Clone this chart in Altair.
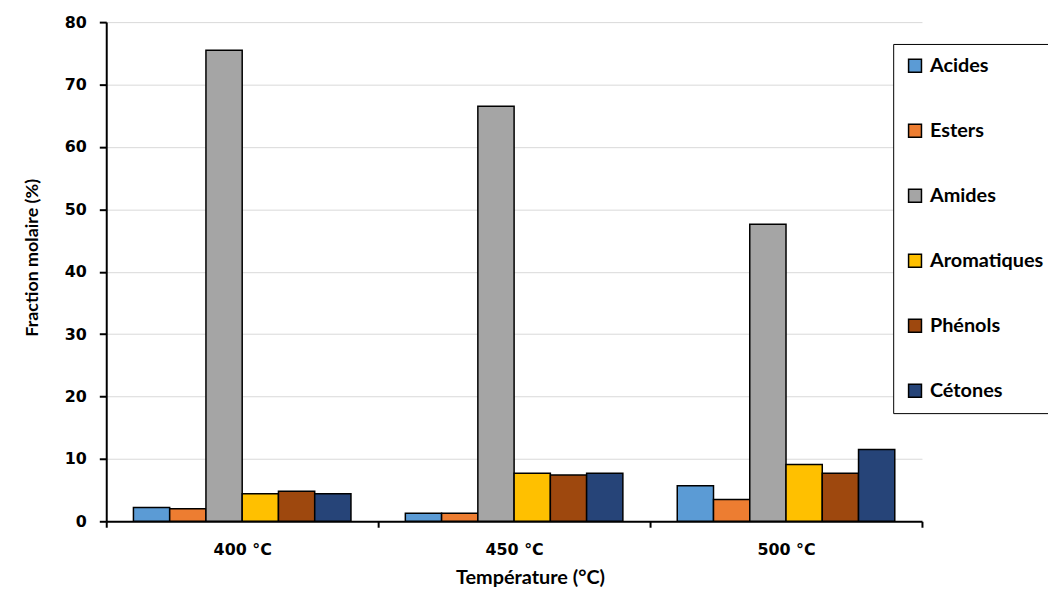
import altair as alt
import pandas as pd

temps = ["400 °C", "450 °C", "500 °C"]
types = ["Acides", "Esters", "Amides", "Aromatiques", "Phénols", "Cétones"]
colors = ["#5B9BD5", "#ED7D31", "#A5A5A5", "#FFC000", "#9E480E", "#264478"]

acides = [2.2, 1.3, 5.7]
esters = [2.0, 1.3, 3.5]
amides = [75.5, 66.5, 47.6]
aromatiques = [4.4, 7.7, 9.1]
phenols = [4.8, 7.4, 7.7]
cetones = [4.4, 7.7, 11.5]

series = [acides, esters, amides, aromatiques, phenols, cetones]
rows = []
for t, vals in zip(types, series):
    for temp, v in zip(temps, vals):
        rows.append({"temp": temp, "type": t, "value": v})
df = pd.DataFrame(rows)

FONT_TXT = "Lato"
FONT_NUM = "DejaVu Sans"

chart = alt.Chart(df).mark_bar(stroke="black", strokeWidth=1.5).encode(
    x=alt.X("temp:N", sort=temps,
            scale=alt.Scale(paddingInner=0, paddingOuter=0),
            axis=alt.Axis(title="Température (°C)", labelAngle=0,
                          tickBand="extent", tickSize=6, tickWidth=2, tickColor="black",
                          domainColor="black", domainWidth=2,
                          labelFont=FONT_NUM, labelFontSize=16, labelFontWeight="bold",
                          labelColor="black", labelPadding=14,
                          titleFont=FONT_TXT, titleFontSize=20, titleFontWeight="bold",
                          titleColor="black", titleX=427, titleY=57,
                          titleAlign="center", titleBaseline="middle")),
    xOffset=alt.XOffset("type:N", sort=types,
                        scale=alt.Scale(paddingInner=0, paddingOuter=0.75)),
    y=alt.Y("value:Q", scale=alt.Scale(domain=[0, 80], nice=False),
            axis=alt.Axis(title="Fraction molaire (%)", values=list(range(0, 81, 10)),
                          tickSize=7, tickWidth=2, tickColor="black",
                          domainColor="black", domainWidth=2,
                          grid=True, gridColor="#d9d9d9", gridWidth=1,
                          labelFont=FONT_NUM, labelFontSize=16, labelFontWeight="bold",
                          labelColor="black", labelPadding=13,
                          titleFont=FONT_TXT, titleFontSize=18, titleFontWeight="bold",
                          titleColor="black", titleX=-74, titleY=237,
                          titleAlign="center", titleBaseline="middle")),
    color=alt.Color("type:N", sort=types,
                    scale=alt.Scale(domain=types, range=colors),
                    legend=alt.Legend(title=None, orient="none", legendX=793, legendY=22,
                                      direction="vertical", symbolType="square",
                                      symbolSize=169, symbolStrokeColor="black",
                                      symbolStrokeWidth=1.5,
                                      labelFont=FONT_TXT, labelFontSize=20,
                                      labelFontWeight="bold", labelColor="black",
                                      labelOffset=5, rowPadding=45.5, padding=12,
                                      labelLimit=300,
                                      strokeColor="black", fillColor="white",
                                      cornerRadius=0)),
).properties(
    width=822, height=503,
    autosize=alt.AutoSizeParams(type="none"),
    padding={"left": 99, "top": 12, "right": 127, "bottom": 66},
).configure_view(stroke=None)

chart.save("out.html", embed_options={"renderer": "svg", "actions": False})
